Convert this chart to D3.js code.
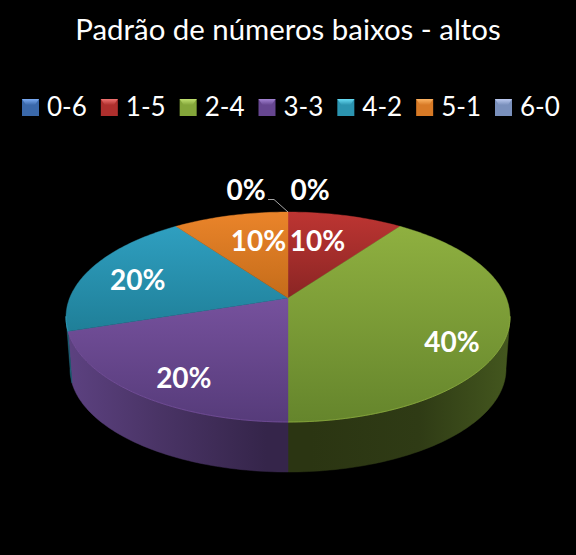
<!DOCTYPE html>
<html><head><meta charset="utf-8">
<script src="https://cdn.jsdelivr.net/npm/d3@7"></script>
<style>html,body{margin:0;padding:0;background:#000}svg{display:block}text{font-family:Lato,sans-serif;fill:#fff}</style>
</head><body><svg id="c" width="576" height="555"></svg>
<script>
const chartTitle = "Padrão de números baixos - altos";
const categories = ["0-6","1-5","2-4","3-3","4-2","5-1","6-0"];
const values = [0,10,40,20,20,10,0];
const percentLabels = ["0%","10%","40%","20%","20%","10%","0%"];

const swatchColors = ["#3a68aa","#ae2f2d","#84a63a","#664690","#2b94b0","#d87a26","#7a90bc"];
const swatchLight  = ["#7cacf4","#f07472","#c0e070","#a484d4","#68dcf4","#fcb464","#bccaf0"];
const topStart = ["#4f81bd","#bd3532","#8fb040","#76519d","#2f9fc0","#ea842a","#8ea4d0"];
const topEnd   = ["#3a6298","#8a2524","#65852c","#563b7a","#1f7f98","#c46c1a","#7084ac"];
const sideNear = ["#2a4060","#4a1a1a","#2b3512","#35254a","#1a5f73","#7a4510","#4a5570"];
const sideMid  = ["#2a4060","#4a1a1a","#2f3b15","#4a3466","#1a5f73","#7a4510","#4a5570"];
const sideFar  = ["#2a4060","#4a1a1a","#43561e","#5c4180","#1a5f73","#7a4510","#4a5570"];
const labelNudge = [[22,-49],[-10,0],[24,23],[-12,21],[-20,2],[10,0],[-42,-49]];

const svg = d3.select("#c");
const defs = svg.append("defs");

const top3d = {cx:288, cy:317, rx:222, ry:105};
const base3d = {cx:288, cy:369, rx:218, ry:103};
const persp = -0.18;
function project(e, a, r = 1) {
  const u = r * Math.sin(a), v = -r * Math.cos(a);
  const den = 1 + persp * v;
  return [e.cx + e.rx * u * Math.sqrt(1 - persp * persp) / den,
          e.cy + e.ry * (v + persp) / den];
}
const arcs = d3.pie().sort(null).startAngle(0).endAngle(2 * Math.PI).value(d => d)(values);
const line = d3.line();
function samples(a0, a1) {
  const n = Math.max(2, Math.ceil((a1 - a0) / 0.02));
  return d3.range(n + 1).map(i => a0 + (a1 - a0) * i / n);
}
const deg = Math.PI / 180;
const sideMin = 100 * deg, sideMax = 260 * deg;

// side wall
arcs.forEach((d, i) => {
  const a0 = Math.max(d.startAngle, sideMin), a1 = Math.min(d.endAngle, sideMax);
  if (a1 <= a0) return;
  const id = "side" + i, leftSide = (a0 + a1) / 2 > Math.PI;
  const g = defs.append("linearGradient").attr("id", id).attr("gradientUnits", "userSpaceOnUse")
    .attr("x1", 288).attr("y1", 0).attr("x2", leftSide ? 70 : 506).attr("y2", 0);
  g.append("stop").attr("offset", 0.1).attr("stop-color", sideNear[i]);
  g.append("stop").attr("offset", 0.6).attr("stop-color", sideMid[i]);
  g.append("stop").attr("offset", 1).attr("stop-color", sideFar[i]);
  const s = samples(a0, a1);
  const pts = s.map(a => project(top3d, a)).concat(s.slice().reverse().map(a => project(base3d, a)));
  svg.append("path").attr("d", line(pts) + "Z").attr("fill", `url(#${id})`)
    .attr("stroke", `url(#${id})`).attr("stroke-width", 0.5);
});

// top faces
arcs.forEach((d, i) => {
  if (d.endAngle <= d.startAngle) return;
  const s = samples(d.startAngle, d.endAngle);
  const pts = [project(top3d, 0, 0)].concat(s.map(a => project(top3d, a)));
  const ys = pts.map(p => p[1]);
  const id = "top" + i;
  const g = defs.append("linearGradient").attr("id", id).attr("gradientUnits", "userSpaceOnUse")
    .attr("x1", 0).attr("x2", 0).attr("y1", d3.min(ys)).attr("y2", d3.max(ys));
  g.append("stop").attr("offset", 0).attr("stop-color", topStart[i]);
  g.append("stop").attr("offset", 1).attr("stop-color", topEnd[i]);
  svg.append("path").attr("d", line(pts) + "Z").attr("fill", `url(#${id})`)
    .attr("stroke", `url(#${id})`).attr("stroke-width", 0.4);
  // thin highlight along the front rim
  const a0 = Math.max(d.startAngle, sideMin), a1 = Math.min(d.endAngle, sideMax);
  if (a1 > a0) {
    svg.append("path").attr("fill", "none").attr("stroke", topStart[i]).attr("stroke-width", 0.8)
      .attr("d", line(samples(a0, a1).map(a => project(top3d, a))));
  }
});

// title
svg.append("text").attr("x", 288).attr("y", 40).attr("text-anchor", "middle")
  .attr("font-size", 29.4).text(chartTitle);

// legend
const legendX = d3.scalePoint().domain(categories).range([22, 495]);
categories.forEach((c, i) => {
  const g = defs.append("linearGradient").attr("id", "sw" + i).attr("x1", 0).attr("x2", 0).attr("y1", 0).attr("y2", 1);
  g.append("stop").attr("offset", 0).attr("stop-color", swatchLight[i]);
  g.append("stop").attr("offset", 1).attr("stop-color", swatchColors[i]);
});
const legend = svg.selectAll("g.leg").data(categories).join("g").attr("class", "leg")
  .attr("transform", d => `translate(${legendX(d)},99)`);
legend.append("rect").attr("width", 17).attr("height", 17).attr("fill", (d, i) => swatchColors[i]);
legend.append("path").attr("d", "M0 0H17L13 6H4Z").attr("fill", (d, i) => `url(#sw${i})`);
legend.append("text").attr("x", 25).attr("y", 16.5).attr("font-size", 26).text(d => d);

// leader line for the second zero label
const apex = project(top3d, 0);
svg.append("path").attr("fill", "none").attr("stroke", "#d0d0d0").attr("stroke-width", 0.8)
  .attr("d", line([[268, 199.5], [274, 199.5], apex]));

// data labels
svg.selectAll("text.lab").data(arcs).join("text").attr("class", "lab")
  .attr("text-anchor", "middle").attr("font-size", 28).attr("font-weight", 700)
  .attr("dy", "0.35em")
  .each(function (d, i) {
    const p = project(top3d, (d.startAngle + d.endAngle) / 2, 0.65);
    d3.select(this).attr("x", p[0] + labelNudge[i][0]).attr("y", p[1] + labelNudge[i][1]);
  })
  .text((d, i) => percentLabels[i]);
</script></body></html>
